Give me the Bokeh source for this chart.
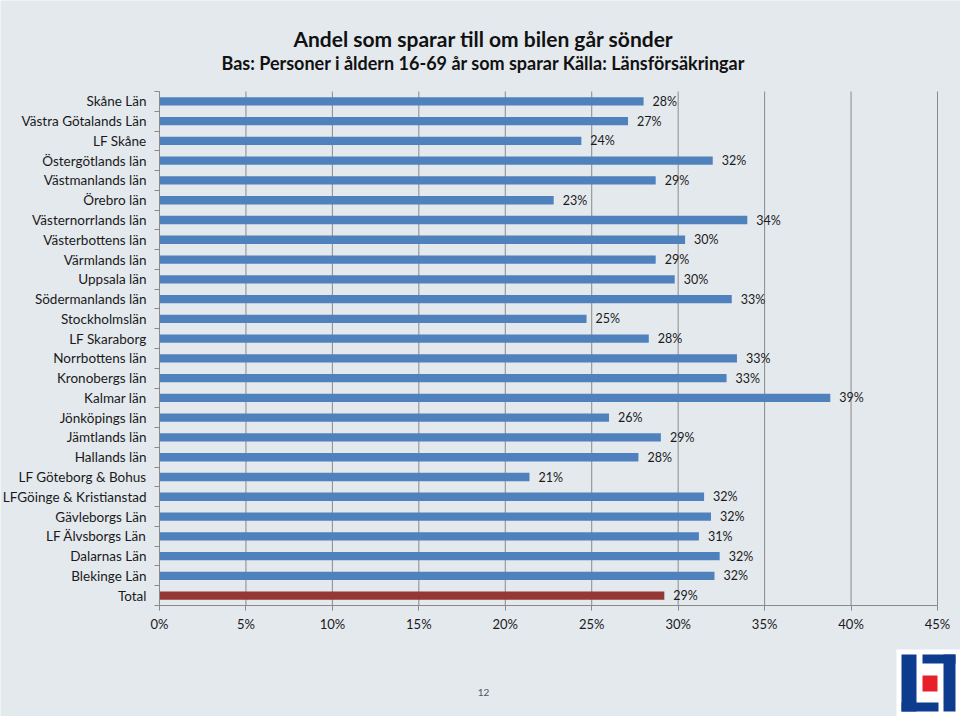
from bokeh.plotting import figure
from bokeh.models import Range1d, FixedTicker, NumeralTickFormatter, ColumnDataSource
from bokeh.core.properties import value
from bokeh.embed import file_html
from bokeh.resources import INLINE

# ---------------- data ----------------
categories = ["Skåne Län", "Västra Götalands Län", "LF Skåne", "Östergötlands län",
              "Västmanlands län", "Örebro län", "Västernorrlands län", "Västerbottens län",
              "Värmlands län", "Uppsala län", "Södermanlands län", "Stockholmslän",
              "LF Skaraborg", "Norrbottens län", "Kronobergs län", "Kalmar län",
              "Jönköpings län", "Jämtlands län", "Hallands län", "LF Göteborg & Bohus",
              "LFGöinge & Kristianstad", "Gävleborgs Län", "LF Älvsborgs Län",
              "Dalarnas Län", "Blekinge Län", "Total"]
shares = [0.280, 0.271, 0.244, 0.320, 0.287, 0.228, 0.340, 0.304, 0.287, 0.298,
          0.331, 0.247, 0.283, 0.334, 0.328, 0.388, 0.260, 0.290, 0.277, 0.214,
          0.315, 0.319, 0.312, 0.324, 0.321, 0.292]
share_labels = ["28%", "27%", "24%", "32%", "29%", "23%", "34%", "30%", "29%", "30%",
                "33%", "25%", "28%", "33%", "33%", "39%", "26%", "29%", "28%", "21%",
                "32%", "32%", "31%", "32%", "32%", "29%"]
x_ticks = [0.0, 0.05, 0.10, 0.15, 0.20, 0.25, 0.30, 0.35, 0.40, 0.45]

title_text = "Andel som sparar till om bilen går sönder"
subtitle_text = "Bas: Personer i åldern 16-69 år som sparar Källa: Länsförsäkringar"
page_number = "12"

# ---------------- styling / geometry ----------------
BG = "#E4E9EE"
BLUE = "#4F81BD"
RED = "#953735"
GRID = "#8A8A8A"
FONT = "Lato"
W, H = 960, 716
PL, PR, PT, PB = 159, 937, 91, 605      # plotting area in page pixels
X_MAX = x_ticks[-1]

n = len(categories)
ypos = [n - 1 - i for i in range(n)]
colors = [RED if c == "Total" else BLUE for c in categories]
src = ColumnDataSource(dict(y=ypos, share=shares, label=share_labels, color=colors))

# data ranges extended so that the frame fills the whole canvas
kx = X_MAX / (PR - PL)
ky = n / (PB - PT)
x_range = Range1d(-PL * kx, X_MAX + (W - PR) * kx)
y_range = Range1d(-0.5 - (H - PB) * ky, n - 0.5 + PT * ky)

p = figure(width=W, height=H, output_backend="svg", toolbar_location=None,
           x_range=x_range, y_range=y_range,
           min_border_left=0, min_border_right=0, min_border_top=0, min_border_bottom=0)
p.background_fill_color = BG
p.border_fill_color = BG
p.outline_line_color = None
p.grid.visible = False

# page-pixel ranges for the decorations
p.extra_x_ranges = {"px": Range1d(0, W)}
p.extra_y_ranges = {"py": Range1d(H, 0)}

# vertical gridlines (from the tick list, limited to the plotting area)
p.segment(x0=x_ticks[1:], x1=x_ticks[1:], y0=-0.5, y1=n - 0.5, line_color=GRID, line_width=1)

p.hbar(y="y", right="share", left=0, height=0.42, color="color", line_color=None, source=src)
p.text(x="share", y="y", text="label", source=src, x_offset=9, text_baseline="middle",
       text_align="left", text_font=value(FONT), text_font_size="12.5px", text_color="#1a1a1a")

# x axis
xa = p.xaxis[0]
xa.fixed_location = -0.5
xa.bounds = (0, X_MAX)
xa.ticker = FixedTicker(ticks=x_ticks, minor_ticks=[])
xa.formatter = NumeralTickFormatter(format="0%")
xa.axis_line_color = GRID
xa.major_tick_line_color = GRID
xa.major_tick_out = 5
xa.major_tick_in = 0
xa.major_label_standoff = 5
xa.major_label_text_font = FONT
xa.major_label_text_font_size = "13px"
xa.major_label_text_color = "#1a1a1a"

# y axis (category names at centres, small ticks at the boundaries)
ya = p.yaxis[0]
ya.fixed_location = 0
ya.bounds = (-0.5, n - 0.5)
ya.ticker = FixedTicker(ticks=ypos, minor_ticks=[v - 0.5 for v in range(n + 1)])
ya.major_label_overrides = {y: c for y, c in zip(ypos, categories)}
ya.axis_line_color = GRID
ya.major_tick_out = 0
ya.major_tick_in = 0
ya.minor_tick_out = 5
ya.minor_tick_in = 0
ya.minor_tick_line_color = GRID
ya.major_label_standoff = 8
ya.major_label_text_font = FONT
ya.major_label_text_font_size = "13.5px"
ya.major_label_text_color = "#1a1a1a"

# titles and page number (page-pixel coordinates)
p.text(x=[483], y=[38], text=[title_text], x_range_name="px", y_range_name="py",
       text_align="center", text_baseline="middle", text_font=value(FONT),
       text_font_style="bold", text_font_size="21px", text_color="#111111")
p.text(x=[483], y=[62], text=[subtitle_text], x_range_name="px", y_range_name="py",
       text_align="center", text_baseline="middle", text_font=value(FONT),
       text_font_style="bold", text_font_size="18px", text_color="#111111")
p.text(x=[483], y=[692], text=[page_number], x_range_name="px", y_range_name="py",
       text_align="center", text_baseline="middle", text_font=value(FONT),
       text_font_size="10px", text_color="#555555")

# logo (decoration, page pixels)
p.quad(left=[896], right=[960], top=[649], bottom=[716], color="#FFFFFF", line_color=None,
       x_range_name="px", y_range_name="py")
p.quad(left=[901, 901, 922, 943], right=[916, 938, 955, 955],
       top=[654, 702, 654, 654], bottom=[711, 711, 663, 711],
       color="#0D3C8E", line_color=None, x_range_name="px", y_range_name="py")
p.quad(left=[922], right=[937], top=[675], bottom=[691], color="#E8202A", line_color=None,
       x_range_name="px", y_range_name="py")

open("out.html", "w").write(file_html(p, INLINE))
